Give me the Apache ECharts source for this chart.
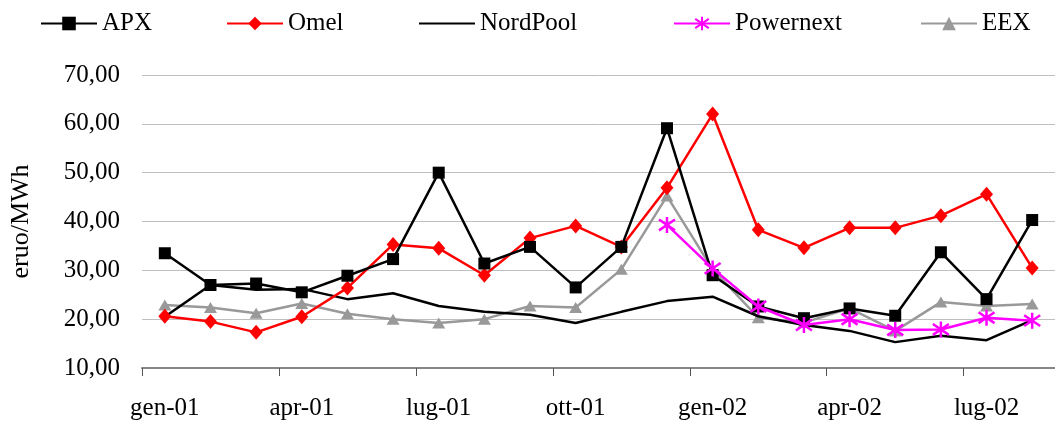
<!DOCTYPE html>
<html>
<head>
<meta charset="utf-8">
<script src="https://cdn.jsdelivr.net/npm/echarts@6/dist/echarts.min.js"></script>
<style>html,body{margin:0;padding:0;background:#fff;}#c{width:1055px;height:421px;}</style>
</head>
<body>
<div id="c"></div>
<script>
const categories = ['gen-01','feb-01','mar-01','apr-01','mag-01','giu-01','lug-01','ago-01','set-01','ott-01','nov-01','dic-01',
                    'gen-02','feb-02','mar-02','apr-02','mag-02','giu-02','lug-02','ago-02'];
const apx       = [33.5, 27.0, 27.3, 25.5, 28.9, 32.3, 50.0, 31.4, 34.8, 26.5, 34.8, 59.1, 29.0, 22.6, 20.2, 22.2, 20.7, 33.7, 24.1, 40.3];
const omel      = [20.6, 19.5, 17.3, 20.5, 26.4, 35.3, 34.5, 29.0, 36.6, 39.1, 34.8, 46.9, 62.0, 38.3, 34.6, 38.7, 38.7, 41.2, 45.6, 30.5];
const nordpool  = [20.5, 27.0, 26.0, 26.2, 24.1, 25.3, 22.7, 21.5, 20.9, 19.2, 21.5, 23.7, 24.6, 20.6, 18.8, 17.6, 15.3, 16.6, 15.7, 19.8];
const powernext = [null, null, null, null, null, null, null, null, null, null, null, 39.3, 30.4, 22.6, 18.8, 20.0, 17.8, 17.9, 20.3, 19.7];
const eex       = [22.9, 22.4, 21.2, 23.2, 21.1, 20.0, 19.2, 20.0, 22.7, 22.4, 30.2, 45.2, 30.2, 20.3, 19.3, 22.2, 17.6, 23.5, 22.7, 23.1];
const seriesNames = ['APX','Omel','NordPool','Powernext','EEX'];
const yTicks = {min: 10, max: 70, step: 10};

const FONT = 'Liberation Serif';
const star = 'path://M5 0 L5 10 M0.8 1.6 L9.2 8.4 M0.8 8.4 L9.2 1.6';
const legendLeft = [40, 226, 418, 673, 920];

const legends = seriesNames.map((n, i) => ({
  left: legendLeft[i], top: 11, padding: 0, itemWidth: 56, itemHeight: 17, itemGap: 0,
  textStyle: {fontFamily: FONT, fontSize: 25, color: '#000'},
  data: [n === 'NordPool' ? {name: n, itemStyle: {opacity: 0}} : n]
}));

const chart = echarts.init(document.getElementById('c'), null, {renderer: 'canvas'});
chart.setOption({
  animation: false,
  backgroundColor: '#fff',
  textStyle: {fontFamily: FONT, color: '#000'},
  legend: legends,
  grid: {left: 140, right: -11, top: 75, bottom: 53},
  xAxis: {
    type: 'category', data: categories, boundaryGap: true,
    axisLine: {lineStyle: {color: '#868686', width: 2}},
    axisTick: {show: true, interval: 2, length: 8, lineStyle: {color: '#555', width: 1}},
    axisLabel: {interval: 2, margin: 28, fontFamily: FONT, fontSize: 25, color: '#000'},
    splitLine: {show: false}
  },
  yAxis: {
    type: 'value', min: yTicks.min, max: yTicks.max, interval: yTicks.step,
    name: 'eruo/MWh', nameLocation: 'middle', nameGap: 108,
    nameTextStyle: {fontFamily: FONT, fontSize: 26, color: '#000'},
    axisLine: {show: false}, axisTick: {show: false},
    axisLabel: {margin: 22, fontFamily: FONT, fontSize: 25, color: '#000',
      formatter: v => v.toFixed(2).replace('.', ',')},
    splitLine: {lineStyle: {color: '#bfbfbf', width: 1}}
  },
  series: [
    {name: 'APX', type: 'line', data: apx, symbol: 'rect', symbolSize: 12,
     lineStyle: {color: '#000', width: 2.5}, itemStyle: {color: '#000'}, z: 5},
    {name: 'Omel', type: 'line', data: omel, symbol: 'diamond', symbolSize: [13, 15],
     lineStyle: {color: '#ff0000', width: 2.5}, itemStyle: {color: '#ff0000'}, z: 4},
    {name: 'NordPool', type: 'line', data: nordpool, symbol: 'none',
     lineStyle: {color: '#000', width: 2.5}, itemStyle: {color: '#000'}, z: 3},
    {name: 'Powernext', type: 'line', data: powernext, symbol: star, symbolSize: 16,
     lineStyle: {color: '#ff00ff', width: 2.5},
     itemStyle: {color: 'none', borderColor: '#ff00ff', borderWidth: 2.5}, z: 6},
    {name: 'EEX', type: 'line', data: eex, symbol: 'triangle', symbolSize: [13, 11],
     lineStyle: {color: '#999999', width: 2.5}, itemStyle: {color: '#999999'}, z: 2}
  ]
});
</script>
</body>
</html>
